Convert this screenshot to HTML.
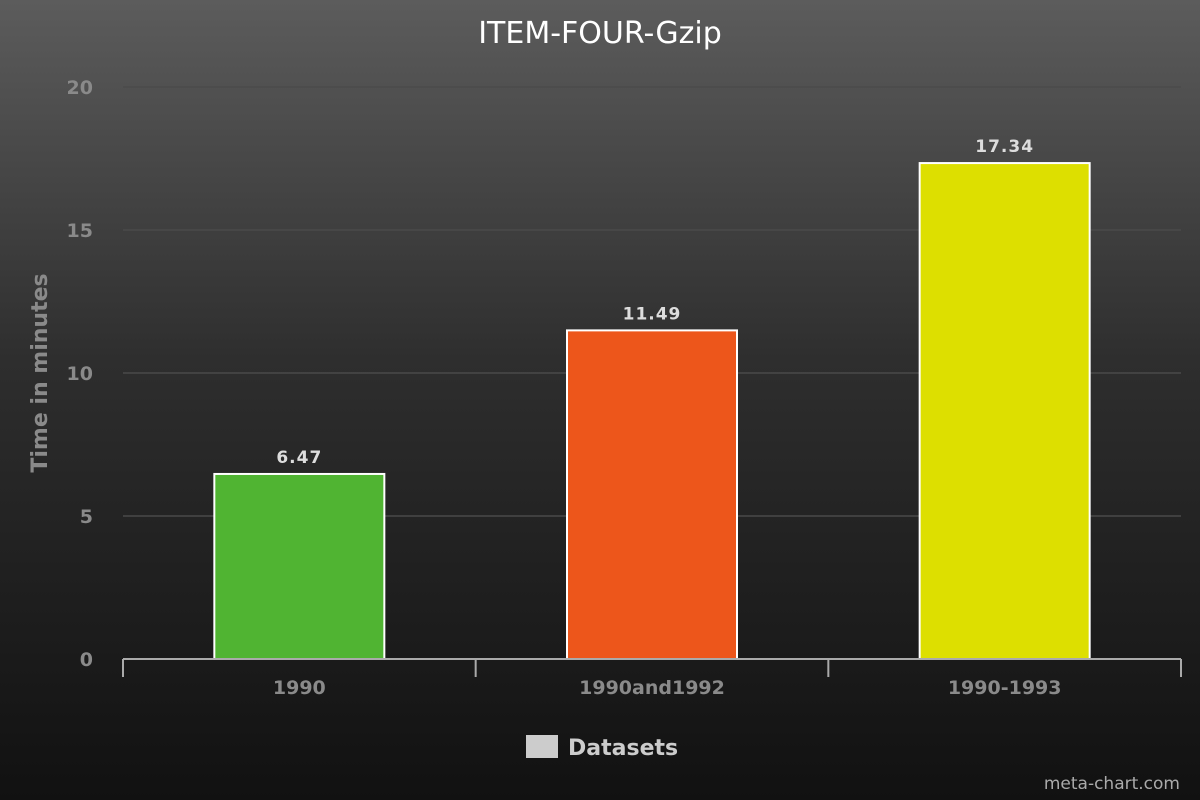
<!DOCTYPE html>
<html><head><meta charset="utf-8"><style>
html,body{margin:0;padding:0;}
body{width:1200px;height:800px;background:linear-gradient(#5c5c5c 0%,#2e2e2e 45%,#111 100%);overflow:hidden;font-family:"DejaVu Sans","Liberation Sans",sans-serif;}
svg{display:block;}
</style></head><body>
<svg id="chart" width="1200" height="800" xmlns="http://www.w3.org/2000/svg">
<text x="600" y="43" text-anchor="middle" font-size="30" fill="#fff" font-family="DejaVu Sans, sans-serif">ITEM-FOUR-Gzip</text>
<text transform="translate(47,373) rotate(-90)" text-anchor="middle" font-size="22" font-weight="bold" fill="#8a8a8a">Time in minutes</text>
<g id="grid"></g><g id="bars"></g><g id="xaxis"></g>
<rect x="526" y="735" width="32" height="23" fill="#cccccc"/>
<text x="568" y="755" font-size="22" font-weight="bold" fill="#cccccc">Datasets</text>
<text x="1180" y="789" text-anchor="end" font-size="17" fill="#aaa">meta-chart.com</text>
</svg>
<script>
const categories=["1990","1990and1992","1990-1993"];
const values=[6.47,11.49,17.34];
const valueLabels=["6.47","11.49","17.34"];
const colors=["#50b432","#ed561b","#dddf00"];
const yTicks=[0,5,10,15,20];
const NS="http://www.w3.org/2000/svg";
const x0=123,x1=1181,yBase=659,yTop=87,yMax=20;
const y=v=>yBase-(v/yMax)*(yBase-yTop);
const band=(x1-x0)/categories.length;
function mk(t,a,p){const e=document.createElementNS(NS,t);for(const k in a)e.setAttribute(k,a[k]);p.appendChild(e);return e;}
const grid=document.getElementById('grid');
yTicks.forEach(t=>{
  if(t>0){const l=mk('line',{x1:x0,x2:x1,y1:y(t),y2:y(t),stroke:'#4a4a4a','stroke-width':1.5},grid);
  
  }
  const tx=mk('text',{x:93,y:y(t)+7,'text-anchor':'end','font-size':19,'font-weight':'bold',fill:'#8a8a8a'},grid);
  tx.textContent=t;
  
  
});
const bars=document.getElementById('bars');
categories.forEach((c,i)=>{
  const cx=x0+band*(i+0.5),w=170;
  const r=mk('rect',{x:cx-w/2,y:y(values[i]),width:w,height:yBase-y(values[i]),fill:colors[i],stroke:'#fff','stroke-width':2},bars);
  
  
  const l=mk('text',{x:cx,y:y(values[i])-11,'text-anchor':'middle','font-size':17,'font-weight':'bold',fill:'#ddd','letter-spacing':1},bars);
  l.textContent=valueLabels[i];
  
  
});
const xa=document.getElementById('xaxis');
const ax=mk('line',{x1:x0,x2:x1,y1:yBase,y2:yBase,stroke:'#aaa','stroke-width':2},xa);


for(let i=0;i<=categories.length;i++){
  const tk=mk('line',{x1:x0+band*i,x2:x0+band*i,y1:yBase,y2:yBase+18,stroke:'#aaa','stroke-width':2},xa);
  
  
}
categories.forEach((c,i)=>{
  const t=mk('text',{x:x0+band*(i+0.5),y:yBase+35,'text-anchor':'middle','font-size':19,'font-weight':'bold',fill:'#8a8a8a'},xa);
  t.textContent=c;
  
  
});
</script>
</body></html>
